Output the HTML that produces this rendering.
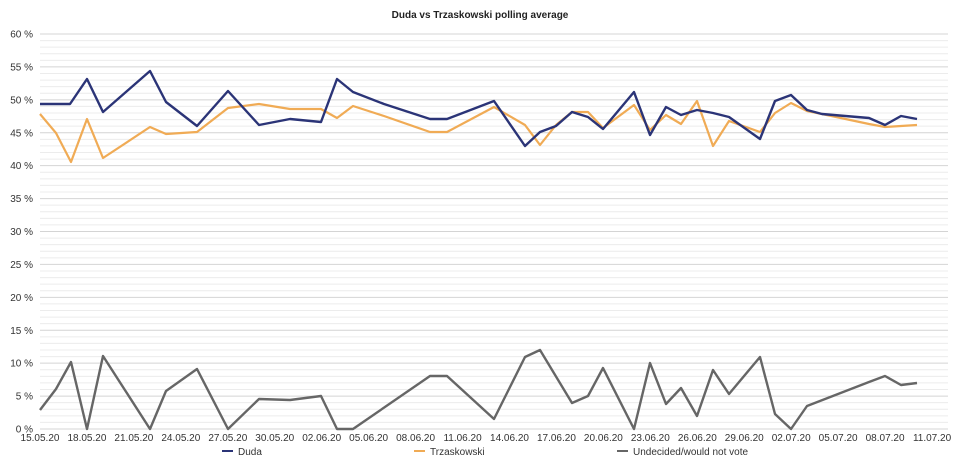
<!DOCTYPE html>
<html><head><meta charset="utf-8"><style>
body{margin:0;background:#fff;}
svg{display:block;font-family:"Liberation Sans",sans-serif;}
</style></head><body>
<svg width="960" height="460" viewBox="0 0 960 460" xmlns="http://www.w3.org/2000/svg">
<text x="480" y="18" text-anchor="middle" font-size="10" font-weight="bold" fill="#222">Duda vs Trzaskowski polling average</text>
<g id="grid"></g>
<g font-size="10" fill="#333" text-anchor="end" id="yl"></g>
<g font-size="10" fill="#333" text-anchor="middle" id="xl"></g>
<polyline fill="none" stroke="#f0ab55" stroke-width="2.2" stroke-linejoin="round" points="40,114 56,133 71,162 87,119 103,158 150,127 166,134 197,132 228,108 259,104 290,109 321,109 337,118 353,106 384,116 430,132 447,132 494,107 525,125 540,145 556,125 572,112 588,112 603,128 634,105 650,130 666,115 681,124 697,101 713,146 729,121 760,132 775,113 791,103 807,111 822,114 869,124 885,127 901,126 917,125"/>
<polyline fill="none" stroke="#2b3477" stroke-width="2.4" stroke-linejoin="round" points="40,104 70,104 87,79 103,112 150,71 166,102 197,126 228,91 259,125 290,119 321,122 337,79 353,92 384,104 430,119 447,119 494,101 525,146 540,132 556,126 572,112 588,117 603,129 634,92 650,135 666,107 681,115 697,110 713,113 729,117 760,139 775,101 791,95 807,110 822,114 869,118 885,125 901,116 917,119"/>
<polyline fill="none" stroke="#666" stroke-width="2.4" stroke-linejoin="round" points="40,410 56,389 71,362 87,429 103,356 150,429 166,391 197,369 228,429 259,399 290,400 321,396 337,429 353,429 430,376 447,376 494,419 525,357 540,350 572,403 588,396 603,368 634,429 650,363 666,404 681,388 697,416 713,370 729,394 760,357 775,414 791,429 807,406 869,382 885,376 901,385 917,383"/>
<g font-size="10" fill="#333">
<line x1="222" y1="451" x2="233" y2="451" stroke="#2b3477" stroke-width="2"/><text x="238" y="455">Duda</text>
<line x1="414" y1="451" x2="425" y2="451" stroke="#f0ab55" stroke-width="2"/><text x="430" y="455">Trzaskowski</text>
<line x1="617" y1="451" x2="628" y2="451" stroke="#666" stroke-width="2"/><text x="633" y="455">Undecided/would not vote</text>
</g>
</svg>
<script>
var ns="http://www.w3.org/2000/svg";
var g=document.getElementById("grid"),yl=document.getElementById("yl"),xl=document.getElementById("xl");
for(var p=0;p<=60;p++){var y=429-p*6.583;var l=document.createElementNS(ns,"line");
l.setAttribute("x1",40);l.setAttribute("x2",948);l.setAttribute("y1",y);l.setAttribute("y2",y);
l.setAttribute("stroke",p%5==0?"#d4d4d4":"#ececec");l.setAttribute("stroke-width","1");g.appendChild(l);
if(p%5==0){var t=document.createElementNS(ns,"text");t.setAttribute("x",33);t.setAttribute("y",y+3.5);t.textContent=p+" %";yl.appendChild(t);}}
var labs=["15.05.20","18.05.20","21.05.20","24.05.20","27.05.20","30.05.20","02.06.20","05.06.20","08.06.20","11.06.20","14.06.20","17.06.20","20.06.20","23.06.20","26.06.20","29.06.20","02.07.20","05.07.20","08.07.20","11.07.20"];
labs.forEach(function(s,i){var t=document.createElementNS(ns,"text");t.setAttribute("x",40+i*46.95);t.setAttribute("y",441);t.textContent=s;xl.appendChild(t);});
</script>
</body></html>
